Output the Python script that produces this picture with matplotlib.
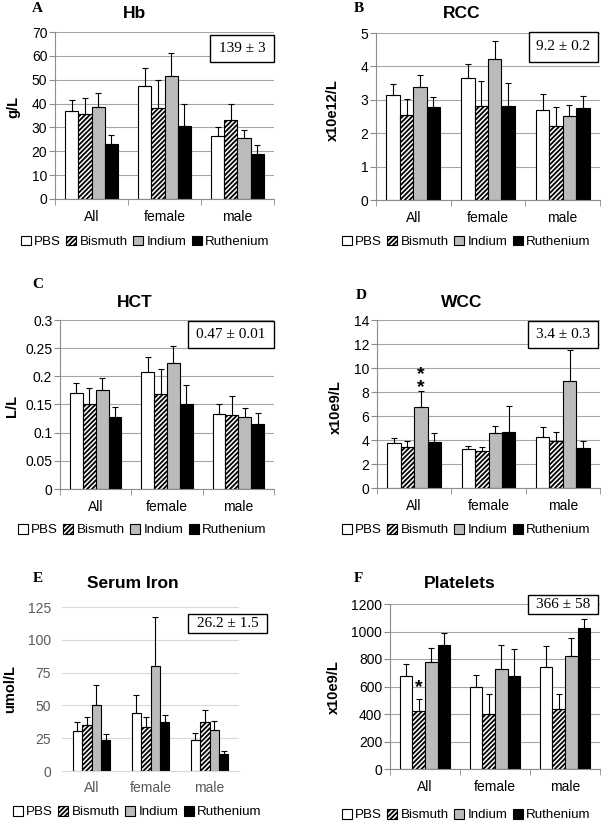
import numpy as np
import matplotlib.pyplot as plt
from matplotlib.patches import Patch, Rectangle
from matplotlib.ticker import FuncFormatter, MultipleLocator, FixedLocator

plt.rcParams['font.family'] = ['Liberation Sans', 'DejaVu Sans']
plt.rcParams['hatch.linewidth'] = 1.3

groups = ['All', 'female', 'male']
treatments = ['PBS', 'Bismuth', 'Indium', 'Ruthenium']

# rows: PBS, Bismuth, Indium, Ruthenium   columns: All, female, male
hb_mean = [[37, 47.5, 26.5], [35.5, 38, 33], [38.5, 51.5, 25.5], [23, 30.5, 19]]
hb_err = [[4.5, 7.5, 3.5], [7, 12, 7], [6, 9.5, 3.5], [4, 9.5, 3.5]]

rcc_mean = [[3.15, 3.65, 2.68], [2.53, 2.82, 2.22], [3.37, 4.22, 2.52], [2.77, 2.8, 2.75]]
rcc_err = [[0.33, 0.42, 0.5], [0.49, 0.75, 0.56], [0.38, 0.53, 0.33], [0.31, 0.7, 0.35]]

hct_mean = [[0.171, 0.208, 0.134], [0.151, 0.169, 0.131], [0.176, 0.223, 0.128], [0.127, 0.150, 0.115]]
hct_err = [[0.017, 0.026, 0.017], [0.028, 0.044, 0.034], [0.021, 0.030, 0.016], [0.018, 0.035, 0.020]]

wcc_mean = [[3.75, 3.25, 4.25], [3.4, 3.05, 3.9], [6.75, 4.6, 8.9], [3.8, 4.7, 3.35]]
wcc_err = [[0.45, 0.25, 0.85], [0.5, 0.4, 0.8], [1.3, 0.6, 2.6], [0.75, 2.1, 0.6]]

iron_mean = [[30.5, 44, 23.4], [35.3, 33.5, 37], [50, 80, 31.3], [24, 37, 13]]
iron_err = [[6.5, 14, 5.3], [5.7, 7.5, 9.5], [15.5, 37, 6.7], [4.2, 5.7, 2]]

plt_mean = [[677, 598, 745], [419, 400, 440], [777, 728, 825], [900, 680, 1028]]
plt_err = [[85, 87, 153], [87, 144, 109], [101, 172, 126], [90, 191, 66]]

W, H = 602, 821
fig = plt.figure(figsize=(W / 100, H / 100), dpi=100)


def fx(x):
    return x / W


def fy(y):
    return 1 - y / H


face = ['white', 'white', '#bbbbbb', 'black']
hatch = [None, '///////', None, None]


def panel(box, mean, err, top, step, ylabel, lab_xy, title, title_xy,
          letter, letter_xy, note, note_box, legend_xy, bar_w=0.18, modern=False):
    l, t, r, b = box
    ax = fig.add_axes([fx(l), fy(b), fx(r - l), (b - t) / H])
    x = np.arange(len(groups))
    for i in range(4):
        xi = x + (i - 1.5) * bar_w
        ax.bar(xi, mean[i], bar_w, color=face[i], edgecolor='black',
               linewidth=0.8, hatch=hatch[i], zorder=2)
        ax.errorbar(xi, mean[i], yerr=[np.zeros(3), err[i]], fmt='none',
                    ecolor='black', elinewidth=0.8, capsize=2.5,
                    capthick=0.8, zorder=3)
    ax.set_xlim(-0.5, 2.5)
    ax.set_ylim(0, top)
    ax.yaxis.set_major_locator(MultipleLocator(step))
    ax.yaxis.set_major_formatter(FuncFormatter(lambda v, p: '%g' % round(v, 3)))
    ax.set_xticks(x)
    ax.set_xticklabels(groups)
    ax.xaxis.set_minor_locator(FixedLocator([-0.5, 0.5, 1.5, 2.5]))
    for s in ['top', 'right']:
        ax.spines[s].set_visible(False)
    if modern:
        ax.spines['left'].set_visible(False)
        ax.spines['bottom'].set_color('#d9d9d9')
        ax.grid(axis='y', color='#d9d9d9', linewidth=0.8, zorder=0)
        ax.tick_params(axis='y', length=0, pad=8, labelsize=10, labelcolor='#595959')
        ax.tick_params(axis='x', which='major', length=0, pad=7, labelsize=10,
                       labelcolor='#595959')
        ax.tick_params(axis='x', which='minor', length=0)
    else:
        ax.spines['left'].set_color('#8c8c8c')
        ax.spines['bottom'].set_color('#8c8c8c')
        ax.grid(axis='y', color='#a6a6a6', linewidth=0.8, zorder=0)
        ax.tick_params(axis='y', length=4, color='#8c8c8c', pad=1.5, labelsize=10)
        ax.tick_params(axis='x', which='major', length=0, pad=8, labelsize=10)
        ax.tick_params(axis='x', which='minor', length=4, color='#8c8c8c')
    ax.set_ylabel(ylabel, fontsize=10.5, fontweight='bold', va='center')
    ax.yaxis.set_label_coords(fx(lab_xy[0]), fy(lab_xy[1]), transform=fig.transFigure)

    fig.text(fx(title_xy[0]), fy(title_xy[1]), title, ha='center', va='center',
             fontsize=12.5, fontweight='bold')
    fig.text(fx(letter_xy[0]), fy(letter_xy[1]), letter, ha='center', va='center',
             fontsize=11, fontweight='bold', family='Liberation Serif')

    x0, y0, x1, y1 = note_box
    fig.add_artist(Rectangle((fx(x0), fy(y1)), fx(x1 - x0), (y1 - y0) / H,
                             transform=fig.transFigure, facecolor='white',
                             edgecolor='black', linewidth=1.0, zorder=5))
    fig.text(fx((x0 + x1) / 2), fy((y0 + y1) / 2), note, ha='center', va='center',
             fontsize=11, family='Liberation Serif', zorder=6)

    handles = [Patch(facecolor=face[i], edgecolor='black', linewidth=0.8,
                     hatch=hatch[i]) for i in range(4)]
    ax.legend(handles, treatments, loc='center',
              bbox_to_anchor=(fx(legend_xy[0]), fy(legend_xy[1])),
              bbox_transform=fig.transFigure, ncol=4, frameon=False,
              fontsize=9.6, handlelength=0.75, handleheight=0.75,
              handletextpad=0.25, columnspacing=0.4, borderaxespad=0,
              borderpad=0)
    return ax


panel((55, 32, 274, 199), hb_mean, hb_err, 70, 10, 'g/L', (13, 107),
      'Hb', (135, 13), 'A', (37, 8), '139 ± 3', (210, 35, 274, 62), (145, 242))

panel((376, 33, 600, 200), rcc_mean, rcc_err, 5, 1, 'x10e12/L', (333, 110),
      'RCC', (462, 13), 'B', (359, 8), '9.2 ± 0.2', (529, 32, 598, 62), (466, 242))

panel((60, 320, 274, 489), hct_mean, hct_err, 0.3, 0.05, 'L/L', (12, 406),
      'HCT', (135, 302), 'C', (38, 285), '0.47 ± 0.01', (188, 321, 274, 348), (142, 530))

ax_d = panel((377, 320, 600, 488), wcc_mean, wcc_err, 14, 2, 'x10e9/L', (336, 407),
             'WCC', (462, 302), 'D', (361, 295), '3.4 ± 0.3', (528, 321, 598, 348), (466, 530))
ax_d.text(0.5 * 0.18, 8.9, '*\n*', ha='center', va='center', fontsize=14,
          fontweight='bold', linespacing=0.75)

panel((62, 607, 239, 771), iron_mean, iron_err, 125, 25, 'umol/L', (10, 689),
      'Serum Iron', (133, 583), 'E', (38, 578), '26.2 ± 1.5', (188, 614, 267, 633),
      (137, 812), bar_w=0.16, modern=True)

ax_f = panel((390, 604, 600, 769), plt_mean, plt_err, 1200, 200, 'x10e9/L', (334, 687),
             'Platelets', (460, 583), 'F', (358, 578), '366 ± 58', (528, 595, 598, 614),
             (466, 815))
ax_f.text(-0.5 * 0.18, 590, '*', ha='center', va='center', fontsize=14, fontweight='bold')

fig.savefig('out.png', dpi=100)
